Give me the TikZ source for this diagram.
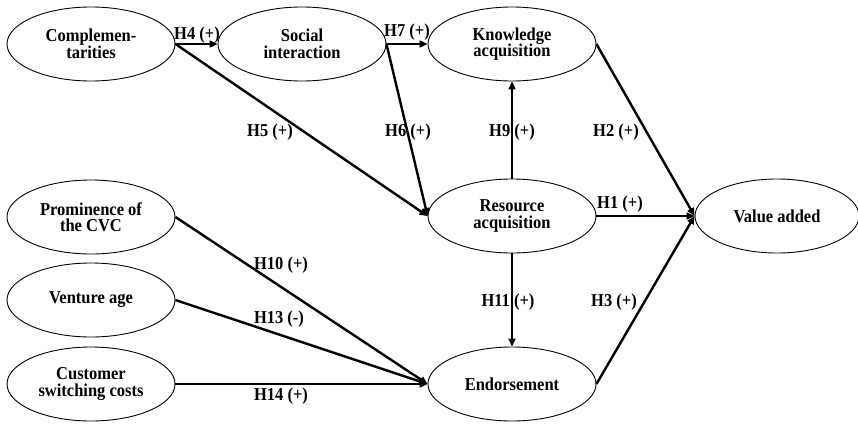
\documentclass[tikz,border=0pt]{standalone}
\usepackage{fontspec}
\setmainfont{Liberation Serif}
\usetikzlibrary{shapes.geometric,arrows.meta}
% bold text, slightly stretched vertically, lines centred (\cr between lines)
\newcommand{\txt}[1]{\scalebox{1}[1.1]{\vbox{\lineskiplimit=-20pt\baselineskip=15pt
  \halign{\hfil##\hfil\cr#1\crcr}}}}
\begin{document}
\begin{tikzpicture}[x=1pt,y=-1pt,
  construct/.style={ellipse,draw,line width=0.9pt,minimum width=168pt,minimum height=74pt,
    inner sep=0pt,font=\fontsize{16.5}{15}\selectfont\bfseries},
  link/.style={line width=2.4pt,-{Triangle[length=8pt,width=7pt]}},
  hyp/.style={font=\fontsize{16.5}{15}\selectfont\bfseries,inner sep=0pt}]
\useasboundingbox (0,0) rectangle (858,423);

% constructs
\node[construct] (comp) at (91,44)  {\txt{Complemen-\cr tarities}};
\node[construct] (soc)  at (302,44) {\txt{Social\cr interaction}};
\node[construct] (know) at (512,44) {\txt{Knowledge\cr acquisition}};
\node[construct] (res)  at (512,216) {\txt{Resource\cr acquisition}};
\node[construct] (end)  at (512,384) {\txt{Endorsement}};
\node[construct,minimum width=164pt] (val) at (777,216) {\txt{Value added}};
\node[construct] (prom) at (91,217) {\txt{Prominence of\cr the CVC}};
\node[construct] (age)  at (91,300) {\txt{Venture age}};
\node[construct] (cust) at (91,384) {\txt{Customer\cr switching costs}};

% hypothesised paths
\draw[link] (comp.east) -- (soc.west);
\draw[link] (soc.east) -- (know.west);
\draw[link] (comp.east) -- (res.west);
\draw[link] (soc.east) -- (res.west);
\draw[link] (res.north) -- (know.south);
\draw[link] (know.east) -- (val.west);
\draw[link] (res.east) -- (val.west);
\draw[link] (end.east) -- (val.west);
\draw[link] (res.south) -- (end.north);
\draw[link] (prom.east) -- (end.west);
\draw[link] (age.east) -- (end.west);
\draw[link] (cust.east) -- (end.west);

% hypothesis labels
\node[hyp] (h4)  at (197,35)  {\txt{H4 (+)}};
\node[hyp] (h7)  at (407,32)  {\txt{H7 (+)}};
\node[hyp] (h5)  at (270,132) {\txt{H5 (+)}};
\node[hyp] (h6)  at (408,132) {\txt{H6 (+)}};
\node[hyp] (h9)  at (512,132) {\txt{H9 (+)}};
\node[hyp] (h2)  at (616,132) {\txt{H2 (+)}};
\node[hyp] (h1)  at (620,204) {\txt{H1 (+)}};
\node[hyp] (h11) at (508,302) {\txt{H11 (+)}};
\node[hyp] (h3)  at (614,302) {\txt{H3 (+)}};
\node[hyp] (h10) at (281,265) {\txt{H10 (+)}};
\node[hyp] (h13) at (279,319) {\txt{H13 (-)}};
\node[hyp] (h14) at (281,396) {\txt{H14 (+)}};
\end{tikzpicture}
\end{document}
